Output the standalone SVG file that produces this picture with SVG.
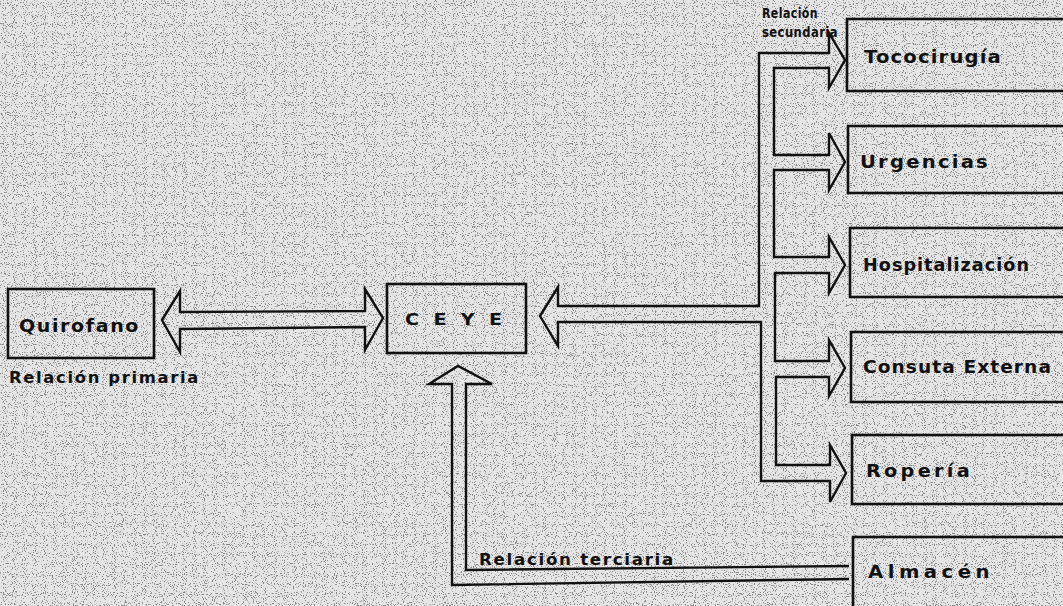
<svg xmlns="http://www.w3.org/2000/svg" width="1063" height="606" viewBox="0 0 1063 606">
<style>
.box{fill:none;stroke:#111;stroke-width:2.6}
.arr{fill:none;stroke:#111;stroke-width:2.4;stroke-linejoin:miter}
.lbl{font-family:"DejaVu Sans",sans-serif;font-weight:bold;fill:#111}
.big{font-size:17.5px}
.mid{font-size:15px}
.sm{font-size:13.5px}
</style>
<defs>
<filter id="grain" x="0" y="0" width="100%" height="100%">
<feTurbulence type="fractalNoise" baseFrequency="0.9" numOctaves="1" seed="7"/>
<feColorMatrix type="matrix" values="0 0 0 0 0  0 0 0 0 0  0 0 0 0 0  10 0 0 0 -5.6"/>
</filter>
</defs>
<rect width="1063" height="606" fill="#e6e6e6"/>
<rect width="1063" height="606" filter="url(#grain)" opacity="0.42"/>
<g id="connectors">
<path id="c-primaria" class="arr" d="M162,320 L180,291 L180,312 L365,311 L365,289 L383,318 L365,350 L365,327 L180,329 L180,352 Z"/>
<path id="c-secundaria" class="arr" d="M540,316 L558,287 L558,306 L759,306 L759,53 L829,53 L829,33 L845,60 L829,88 L829,68 L774,68 L774,155 L829,155 L829,133 L845,162 L829,190 L829,170 L774,170 L774,257 L829,257 L829,237 L845,265 L829,293 L829,273 L775,273 L775,361 L829,361 L829,340 L845,368 L829,396 L829,377 L776,377 L776,465 L830,465 L830,445 L846,473 L830,502 L830,481 L761,481 L761,322 L558,322 L558,346 Z"/>
<path id="c-terciaria" class="arr" d="M849,566 L466,570 L466,384 L492,384 L458,366 L429,384 L452,384 L452,585 L849,579"/>
</g>
<g id="quirofano"><rect class="box" x="8" y="289" width="146" height="69"/><text class="lbl big" x="19" y="332" letter-spacing="1.5" textLength="121" lengthAdjust="spacingAndGlyphs">Quirofano</text></g>
<g id="ceye"><rect class="box" x="387" y="284" width="139" height="69"/><text class="lbl" font-size="15" x="405" y="325" letter-spacing="3" textLength="101" lengthAdjust="spacingAndGlyphs">C E Y E</text></g>
<g id="tococirugia"><rect class="box" x="847" y="19" width="240" height="72"/><text class="lbl big" x="864" y="63" letter-spacing="1" textLength="138" lengthAdjust="spacingAndGlyphs">Tococirugía</text></g>
<g id="urgencias"><rect class="box" x="848" y="126" width="240" height="67"/><text class="lbl big" x="860" y="168" letter-spacing="2" textLength="130" lengthAdjust="spacingAndGlyphs">Urgencias</text></g>
<g id="hospitalizacion"><rect class="box" x="850" y="228" width="240" height="69"/><text class="lbl big" x="863" y="271" letter-spacing="1" textLength="167" lengthAdjust="spacingAndGlyphs">Hospitalización</text></g>
<g id="consulta"><rect class="box" x="851" y="332" width="240" height="70"/><text class="lbl big" x="863" y="373" letter-spacing="1" textLength="189" lengthAdjust="spacingAndGlyphs">Consuta Externa</text></g>
<g id="roperia"><rect class="box" x="852" y="435" width="240" height="69"/><text class="lbl big" x="866" y="477" letter-spacing="3" textLength="107" lengthAdjust="spacingAndGlyphs">Ropería</text></g>
<g id="almacen"><rect class="box" x="853" y="537" width="240" height="90"/><text class="lbl big" x="868" y="578" letter-spacing="4" textLength="126" lengthAdjust="spacingAndGlyphs">Almacén</text></g>
<g id="labels">
<text class="lbl mid" x="9" y="383" letter-spacing="1.5" textLength="191" lengthAdjust="spacingAndGlyphs">Relación primaria</text>
<text class="lbl sm" x="762" y="18" letter-spacing="0.5" textLength="56" lengthAdjust="spacingAndGlyphs">Relación</text>
<text class="lbl sm" x="762" y="37" letter-spacing="0.5" textLength="76" lengthAdjust="spacingAndGlyphs">secundaria</text>
<text class="lbl mid" x="479" y="565" letter-spacing="1.5" textLength="196" lengthAdjust="spacingAndGlyphs">Relación terciaria</text>
</g>
</svg>
